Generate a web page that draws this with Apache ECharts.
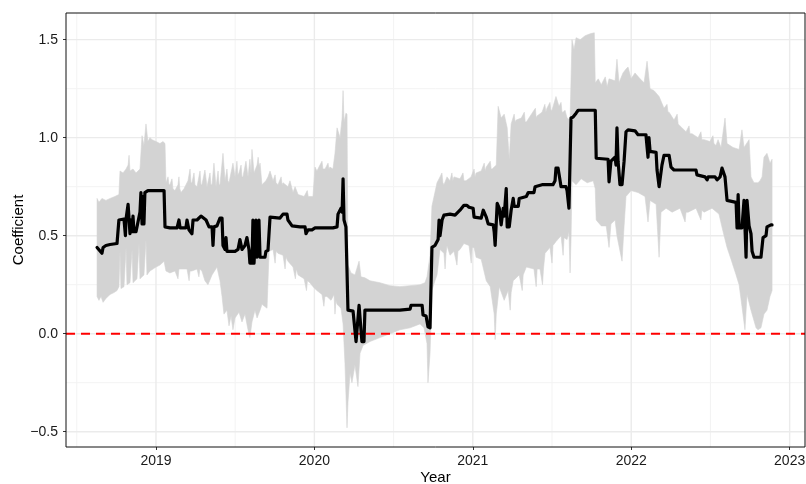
<!DOCTYPE html>
<html>
<head>
<meta charset="utf-8">
<title>Rolling coefficient</title>
<script src="https://cdn.jsdelivr.net/npm/echarts@6/dist/echarts.min.js"></script>
<style>
  html, body { margin: 0; padding: 0; background: #ffffff; }
  #chart { width: 806px; height: 484px; }
</style>
</head>
<body>
<div id="chart"></div>
<script>
// Axis ranges and tick positions (x in decimal years)
const xRange = [2018.432, 2023.097];
const yRange = [-0.578, 1.636];
const yearTicks = [2019, 2020, 2021, 2022, 2023];
const yearMinor = [2018.5, 2019.5, 2020.5, 2021.5, 2022.5];
const coefTicks = [-0.5, 0, 0.5, 1, 1.5];
const coefMinor = [-0.25, 0.25, 0.75, 1.25];
const zeroLine = 0;

// Upper edge of the confidence band: [year, value]
const bandUpper = [
  [2018.628, 0.69], [2018.640, 0.67], [2018.659, 0.69], [2018.684, 0.68], [2018.710, 0.69],
  [2018.741, 0.70], [2018.766, 0.71], [2018.773, 0.83], [2018.792, 0.82], [2018.811, 0.84],
  [2018.824, 0.86], [2018.830, 0.91], [2018.836, 0.83], [2018.855, 0.84], [2018.874, 0.82],
  [2018.899, 0.84], [2018.912, 1.01], [2018.924, 0.96], [2018.937, 1.07], [2018.949, 0.98],
  [2018.962, 1.00], [2018.975, 0.99], [2019.000, 0.98], [2019.025, 0.97], [2019.044, 0.98],
  [2019.057, 0.97], [2019.063, 0.77], [2019.076, 0.80], [2019.082, 0.76], [2019.088, 0.76],
  [2019.101, 0.79], [2019.107, 0.74], [2019.120, 0.73], [2019.139, 0.76], [2019.145, 0.80],
  [2019.150, 0.74], [2019.158, 0.72], [2019.177, 0.74], [2019.202, 0.78], [2019.215, 0.84],
  [2019.221, 0.77], [2019.227, 0.77], [2019.240, 0.82], [2019.246, 0.76], [2019.259, 0.75],
  [2019.278, 0.83], [2019.284, 0.76], [2019.290, 0.76], [2019.309, 0.835], [2019.322, 0.75],
  [2019.341, 0.82], [2019.347, 0.76], [2019.354, 0.76], [2019.366, 0.87], [2019.379, 0.75],
  [2019.392, 0.83], [2019.398, 0.76], [2019.404, 0.76], [2019.423, 0.92], [2019.436, 0.78],
  [2019.448, 0.84], [2019.454, 0.78], [2019.461, 0.77], [2019.486, 0.87], [2019.499, 0.80],
  [2019.511, 0.88], [2019.517, 0.81], [2019.524, 0.82], [2019.537, 0.86], [2019.543, 0.80],
  [2019.549, 0.80], [2019.568, 0.88], [2019.581, 0.80], [2019.593, 0.89], [2019.600, 0.82],
  [2019.606, 0.94], [2019.619, 0.82], [2019.638, 0.86], [2019.645, 0.90], [2019.651, 0.85],
  [2019.657, 0.87], [2019.669, 0.76], [2019.694, 0.78], [2019.707, 0.80], [2019.720, 0.83],
  [2019.739, 0.78], [2019.752, 0.81], [2019.758, 0.77], [2019.770, 0.76], [2019.790, 0.80],
  [2019.796, 0.76], [2019.802, 0.77], [2019.833, 0.75], [2019.846, 0.78], [2019.865, 0.72],
  [2019.878, 0.75], [2019.897, 0.71], [2019.935, 0.70], [2019.955, 0.73], [2019.961, 0.70],
  [2019.991, 0.70], [2020.004, 0.85], [2020.016, 0.83], [2020.035, 0.86], [2020.048, 0.88],
  [2020.054, 0.84], [2020.067, 0.84], [2020.086, 0.87], [2020.092, 0.84], [2020.098, 0.85],
  [2020.117, 0.84], [2020.130, 0.92], [2020.143, 1.05], [2020.162, 1.00], [2020.175, 1.10],
  [2020.181, 1.24], [2020.187, 1.08], [2020.199, 1.125], [2020.206, 1.12], [2020.212, 0.35],
  [2020.231, 0.31], [2020.256, 0.30], [2020.282, 0.37], [2020.294, 0.29], [2020.319, 0.285],
  [2020.351, 0.27], [2020.414, 0.26], [2020.477, 0.245], [2020.540, 0.24], [2020.604, 0.245],
  [2020.667, 0.25], [2020.698, 0.26], [2020.711, 0.29], [2020.730, 0.40], [2020.742, 0.65],
  [2020.774, 0.77], [2020.793, 0.80], [2020.805, 0.82], [2020.811, 0.77], [2020.818, 0.76],
  [2020.837, 0.80], [2020.856, 0.78], [2020.868, 0.82], [2020.874, 0.78], [2020.881, 0.80],
  [2020.919, 0.79], [2020.938, 0.82], [2020.944, 0.78], [2020.957, 0.78], [2020.989, 0.80],
  [2021.008, 0.84], [2021.014, 0.80], [2021.021, 0.82], [2021.053, 0.83], [2021.072, 0.87],
  [2021.078, 0.83], [2021.085, 0.85], [2021.110, 0.88], [2021.116, 0.84], [2021.122, 0.84],
  [2021.148, 0.86], [2021.160, 1.16], [2021.179, 1.10], [2021.198, 1.12], [2021.217, 1.05],
  [2021.230, 0.89], [2021.242, 1.07], [2021.261, 1.12], [2021.267, 1.08], [2021.274, 1.09],
  [2021.306, 1.10], [2021.325, 1.13], [2021.331, 1.08], [2021.338, 1.08], [2021.370, 1.12],
  [2021.395, 1.15], [2021.400, 1.10], [2021.405, 1.11], [2021.437, 1.13], [2021.455, 1.17],
  [2021.461, 1.13], [2021.468, 1.15], [2021.487, 1.18], [2021.493, 1.14], [2021.500, 1.14],
  [2021.525, 1.21], [2021.544, 1.16], [2021.557, 1.18], [2021.563, 1.13], [2021.570, 1.13],
  [2021.582, 1.14], [2021.595, 1.10], [2021.614, 1.09], [2021.626, 1.50], [2021.639, 1.45],
  [2021.652, 1.51], [2021.678, 1.50], [2021.709, 1.52], [2021.741, 1.53], [2021.767, 1.535],
  [2021.773, 1.28], [2021.792, 1.30], [2021.811, 1.27], [2021.836, 1.31], [2021.848, 1.26],
  [2021.860, 1.30], [2021.898, 1.29], [2021.910, 1.40], [2021.923, 1.28], [2021.948, 1.33],
  [2021.967, 1.35], [2021.980, 1.36], [2021.999, 1.30], [2022.024, 1.33], [2022.056, 1.30],
  [2022.081, 1.28], [2022.100, 1.39], [2022.119, 1.25], [2022.144, 1.24], [2022.176, 1.21],
  [2022.207, 1.15], [2022.226, 1.17], [2022.232, 1.13], [2022.239, 1.13], [2022.270, 1.09],
  [2022.290, 1.12], [2022.296, 1.07], [2022.308, 1.06], [2022.346, 1.03], [2022.365, 1.06],
  [2022.371, 1.02], [2022.384, 1.02], [2022.422, 1.00], [2022.440, 1.03], [2022.446, 0.99],
  [2022.460, 0.99], [2022.497, 0.98], [2022.516, 1.01], [2022.522, 0.97], [2022.535, 0.96],
  [2022.548, 0.99], [2022.567, 0.95], [2022.592, 1.10], [2022.605, 0.97], [2022.643, 0.95],
  [2022.681, 0.94], [2022.699, 1.04], [2022.712, 0.95], [2022.744, 0.99], [2022.756, 0.80],
  [2022.775, 0.77], [2022.800, 0.77], [2022.813, 0.78], [2022.826, 0.80], [2022.838, 0.90],
  [2022.857, 0.92], [2022.876, 0.87], [2022.889, 0.89]
];

// Lower edge of the confidence band: [year, value]
const bandLower = [
  [2018.628, 0.19], [2018.640, 0.17], [2018.653, 0.19], [2018.666, 0.16], [2018.684, 0.18],
  [2018.710, 0.20], [2018.735, 0.21], [2018.754, 0.22], [2018.766, 0.24], [2018.773, 0.42],
  [2018.779, 0.23], [2018.798, 0.24], [2018.811, 0.44], [2018.817, 0.25], [2018.836, 0.26],
  [2018.849, 0.43], [2018.855, 0.26], [2018.880, 0.28], [2018.893, 0.46], [2018.899, 0.28],
  [2018.924, 0.30], [2018.937, 0.48], [2018.943, 0.30], [2018.962, 0.32], [2018.981, 0.33],
  [2019.000, 0.34], [2019.025, 0.35], [2019.051, 0.37], [2019.063, 0.32], [2019.088, 0.31],
  [2019.120, 0.32], [2019.139, 0.28], [2019.145, 0.33], [2019.158, 0.33], [2019.196, 0.33],
  [2019.209, 0.27], [2019.215, 0.32], [2019.227, 0.32], [2019.259, 0.33], [2019.271, 0.29],
  [2019.277, 0.33], [2019.290, 0.32], [2019.309, 0.27], [2019.328, 0.25], [2019.354, 0.30],
  [2019.385, 0.34], [2019.404, 0.27], [2019.417, 0.19], [2019.429, 0.10], [2019.448, 0.12],
  [2019.461, 0.04], [2019.474, 0.09], [2019.486, 0.02], [2019.499, 0.08], [2019.524, 0.11],
  [2019.543, 0.06], [2019.562, 0.10], [2019.581, 0.02], [2019.593, -0.02], [2019.606, 0.06],
  [2019.625, 0.12], [2019.638, 0.08], [2019.657, 0.12], [2019.669, 0.15], [2019.701, 0.13],
  [2019.714, 0.42], [2019.739, 0.43], [2019.752, 0.36], [2019.758, 0.42], [2019.770, 0.41],
  [2019.802, 0.40], [2019.815, 0.33], [2019.821, 0.39], [2019.833, 0.37], [2019.865, 0.34],
  [2019.880, 0.28], [2019.886, 0.33], [2019.897, 0.30], [2019.935, 0.28], [2019.950, 0.22],
  [2019.956, 0.27], [2019.972, 0.26], [2019.991, 0.24], [2020.016, 0.22], [2020.048, 0.20],
  [2020.060, 0.14], [2020.066, 0.19], [2020.079, 0.19], [2020.105, 0.17], [2020.124, 0.20],
  [2020.130, 0.10], [2020.136, 0.17], [2020.143, 0.15], [2020.168, 0.13], [2020.181, 0.05],
  [2020.193, -0.15], [2020.206, -0.48], [2020.212, -0.35], [2020.225, -0.20], [2020.237, -0.25],
  [2020.256, -0.16], [2020.275, -0.27], [2020.288, -0.10], [2020.307, -0.06], [2020.351, -0.04],
  [2020.414, -0.02], [2020.477, 0.00], [2020.540, 0.02], [2020.604, 0.03], [2020.667, 0.05],
  [2020.692, 0.03], [2020.711, -0.05], [2020.717, -0.25], [2020.730, -0.10], [2020.742, 0.22],
  [2020.761, 0.27], [2020.774, 0.30], [2020.793, 0.43], [2020.818, 0.41], [2020.825, 0.33],
  [2020.831, 0.41], [2020.837, 0.45], [2020.856, 0.40], [2020.881, 0.42], [2020.900, 0.35],
  [2020.906, 0.42], [2020.919, 0.43], [2020.944, 0.46], [2020.976, 0.45], [2020.990, 0.36],
  [2020.996, 0.44], [2021.008, 0.44], [2021.021, 0.39], [2021.053, 0.38], [2021.085, 0.27],
  [2021.110, 0.24], [2021.135, 0.10], [2021.141, -0.03], [2021.148, 0.10], [2021.167, 0.24],
  [2021.198, 0.17], [2021.223, 0.22], [2021.236, 0.12], [2021.242, 0.21], [2021.255, 0.27],
  [2021.293, 0.30], [2021.312, 0.22], [2021.318, 0.30], [2021.338, 0.34], [2021.386, 0.33],
  [2021.400, 0.24], [2021.406, 0.33], [2021.424, 0.33], [2021.440, 0.25], [2021.446, 0.33],
  [2021.456, 0.41], [2021.487, 0.44], [2021.500, 0.36], [2021.506, 0.45], [2021.525, 0.47],
  [2021.557, 0.50], [2021.570, 0.40], [2021.576, 0.49], [2021.595, 0.48], [2021.607, 0.52],
  [2021.614, 0.31], [2021.620, 0.48], [2021.626, 0.78], [2021.652, 0.76], [2021.684, 0.79],
  [2021.722, 0.77], [2021.760, 0.78], [2021.773, 0.74], [2021.779, 0.58], [2021.811, 0.55],
  [2021.842, 0.55], [2021.860, 0.44], [2021.872, 0.56], [2021.898, 0.58], [2021.910, 0.50],
  [2021.942, 0.37], [2021.955, 0.55], [2021.967, 0.70], [2021.999, 0.73], [2022.043, 0.72],
  [2022.087, 0.70], [2022.106, 0.57], [2022.119, 0.68], [2022.157, 0.66], [2022.176, 0.39],
  [2022.188, 0.62], [2022.220, 0.64], [2022.258, 0.62], [2022.308, 0.64], [2022.340, 0.57],
  [2022.346, 0.62], [2022.359, 0.62], [2022.409, 0.64], [2022.440, 0.58], [2022.446, 0.63],
  [2022.460, 0.62], [2022.510, 0.64], [2022.554, 0.61], [2022.580, 0.52], [2022.605, 0.44],
  [2022.630, 0.38], [2022.662, 0.30], [2022.681, 0.25], [2022.699, 0.14], [2022.718, 0.02],
  [2022.731, 0.20], [2022.756, 0.12], [2022.788, 0.03], [2022.800, 0.02], [2022.819, 0.03],
  [2022.838, 0.10], [2022.857, 0.12], [2022.876, 0.19], [2022.889, 0.22]
];

// Estimated coefficient: [year, value]
const coefLine = [
  [2018.628, 0.44], [2018.640, 0.43], [2018.659, 0.41], [2018.666, 0.44], [2018.684, 0.45],
  [2018.710, 0.455], [2018.754, 0.46], [2018.760, 0.46], [2018.766, 0.58], [2018.798, 0.585],
  [2018.807, 0.50], [2018.811, 0.585], [2018.817, 0.58], [2018.824, 0.66], [2018.830, 0.66],
  [2018.836, 0.51], [2018.842, 0.58], [2018.848, 0.52], [2018.855, 0.60], [2018.861, 0.52],
  [2018.874, 0.52], [2018.886, 0.52], [2018.899, 0.62], [2018.905, 0.72], [2018.912, 0.56],
  [2018.918, 0.70], [2018.924, 0.56], [2018.930, 0.72], [2018.937, 0.72], [2018.949, 0.73],
  [2018.975, 0.73], [2019.020, 0.73], [2019.051, 0.73], [2019.057, 0.545], [2019.088, 0.54],
  [2019.133, 0.54], [2019.145, 0.58], [2019.152, 0.54], [2019.189, 0.54], [2019.196, 0.58],
  [2019.208, 0.53], [2019.227, 0.51], [2019.234, 0.58], [2019.259, 0.58], [2019.284, 0.60],
  [2019.316, 0.58], [2019.335, 0.545], [2019.354, 0.545], [2019.360, 0.45], [2019.366, 0.545],
  [2019.385, 0.55], [2019.404, 0.59], [2019.417, 0.59], [2019.423, 0.45], [2019.436, 0.43],
  [2019.442, 0.49], [2019.448, 0.42], [2019.467, 0.42], [2019.499, 0.42], [2019.518, 0.43],
  [2019.530, 0.48], [2019.543, 0.43], [2019.562, 0.45], [2019.574, 0.49], [2019.587, 0.43],
  [2019.593, 0.36], [2019.606, 0.36], [2019.612, 0.58], [2019.619, 0.36], [2019.625, 0.36],
  [2019.631, 0.58], [2019.638, 0.39], [2019.644, 0.39], [2019.650, 0.58], [2019.657, 0.39],
  [2019.688, 0.39], [2019.694, 0.42], [2019.707, 0.425], [2019.720, 0.595], [2019.783, 0.59],
  [2019.802, 0.61], [2019.827, 0.61], [2019.833, 0.58], [2019.859, 0.55], [2019.909, 0.545],
  [2019.941, 0.545], [2019.947, 0.51], [2019.960, 0.53], [2019.985, 0.53], [2020.004, 0.54],
  [2020.117, 0.54], [2020.143, 0.545], [2020.149, 0.61], [2020.168, 0.64], [2020.175, 0.62],
  [2020.181, 0.79], [2020.187, 0.58], [2020.199, 0.545], [2020.206, 0.545], [2020.212, 0.12],
  [2020.244, 0.115], [2020.256, 0.12], [2020.263, -0.04], [2020.275, -0.05], [2020.282, 0.145],
  [2020.294, 0.15], [2020.300, -0.04], [2020.313, -0.04], [2020.319, 0.12], [2020.414, 0.12],
  [2020.540, 0.12], [2020.604, 0.125], [2020.610, 0.145], [2020.667, 0.145], [2020.680, 0.145],
  [2020.686, 0.095], [2020.705, 0.09], [2020.717, 0.035], [2020.730, 0.03], [2020.742, 0.44],
  [2020.761, 0.45], [2020.781, 0.48], [2020.787, 0.58], [2020.793, 0.50], [2020.806, 0.58],
  [2020.818, 0.605], [2020.856, 0.61], [2020.888, 0.605], [2020.919, 0.63], [2020.944, 0.655],
  [2020.963, 0.655], [2020.976, 0.645], [2021.002, 0.64], [2021.008, 0.595], [2021.053, 0.59],
  [2021.066, 0.63], [2021.078, 0.63], [2021.085, 0.595], [2021.097, 0.56], [2021.129, 0.555],
  [2021.135, 0.52], [2021.141, 0.45], [2021.154, 0.665], [2021.167, 0.64], [2021.179, 0.555],
  [2021.192, 0.64], [2021.198, 0.60], [2021.211, 0.74], [2021.217, 0.545], [2021.230, 0.545],
  [2021.242, 0.63], [2021.255, 0.69], [2021.261, 0.65], [2021.287, 0.65], [2021.293, 0.69],
  [2021.338, 0.70], [2021.350, 0.72], [2021.386, 0.72], [2021.393, 0.75], [2021.437, 0.76],
  [2021.506, 0.76], [2021.519, 0.78], [2021.525, 0.845], [2021.538, 0.845], [2021.551, 0.78],
  [2021.557, 0.75], [2021.588, 0.75], [2021.595, 0.73], [2021.607, 0.64], [2021.614, 0.64],
  [2021.620, 1.10], [2021.633, 1.105], [2021.652, 1.125], [2021.665, 1.14], [2021.773, 1.14],
  [2021.779, 0.895], [2021.854, 0.89], [2021.860, 0.775], [2021.872, 0.88], [2021.898, 0.90],
  [2021.904, 0.86], [2021.910, 1.05], [2021.917, 0.88], [2021.929, 0.76], [2021.942, 0.76],
  [2021.955, 0.88], [2021.967, 1.03], [2021.980, 1.04], [2022.024, 1.035], [2022.043, 1.015],
  [2022.093, 1.015], [2022.106, 0.90], [2022.112, 1.00], [2022.119, 0.93], [2022.157, 0.925],
  [2022.163, 0.835], [2022.176, 0.75], [2022.188, 0.75], [2022.194, 0.86], [2022.207, 0.91],
  [2022.239, 0.91], [2022.251, 0.85], [2022.270, 0.835], [2022.409, 0.835], [2022.415, 0.81],
  [2022.466, 0.80], [2022.479, 0.785], [2022.486, 0.80], [2022.529, 0.80], [2022.542, 0.785],
  [2022.561, 0.80], [2022.573, 0.845], [2022.592, 0.80], [2022.605, 0.68], [2022.617, 0.67],
  [2022.662, 0.67], [2022.668, 0.54], [2022.675, 0.71], [2022.681, 0.54], [2022.699, 0.54],
  [2022.712, 0.68], [2022.725, 0.39], [2022.731, 0.68], [2022.744, 0.55], [2022.756, 0.51],
  [2022.763, 0.42], [2022.775, 0.39], [2022.819, 0.39], [2022.832, 0.49], [2022.851, 0.50],
  [2022.857, 0.545], [2022.882, 0.555], [2022.889, 0.555]
];

const FONT = '"Liberation Sans", Arial, Helvetica, sans-serif';
const chart = echarts.init(document.getElementById('chart'), null, { renderer: 'canvas' });

// Full-height / full-width rules inside the plotting panel
function panelRules(params, api, xs, ys, width, color) {
  const cs = params.coordSys;
  const out = [];
  xs.forEach(v => {
    const x = api.coord([v, yRange[0]])[0];
    out.push({ type: 'line', shape: { x1: x, y1: cs.y, x2: x, y2: cs.y + cs.height },
               style: { stroke: color, lineWidth: width } });
  });
  ys.forEach(v => {
    const y = api.coord([xRange[0], v])[1];
    out.push({ type: 'line', shape: { x1: cs.x, y1: y, x2: cs.x + cs.width, y2: y },
               style: { stroke: color, lineWidth: width } });
  });
  return out;
}

// Panel contents drawn back to front: grid rules, confidence band, zero reference
function renderPanel(params, api) {
  const cs = params.coordSys;
  const top = bandUpper.map(p => api.coord(p));
  const bottom = bandLower.slice().reverse().map(p => api.coord(p));
  const yZero = api.coord([xRange[0], zeroLine])[1];
  return {
    type: 'group',
    children: [].concat(
      panelRules(params, api, yearMinor, coefMinor, 1, '#F3F3F3'),
      panelRules(params, api, yearTicks, coefTicks, 1.4, '#EBEBEB'),
      [{
        type: 'polygon',
        shape: { points: top.concat(bottom) },
        style: { fill: '#D3D3D3', stroke: '#D3D3D3', lineWidth: 0.6 }
      }, {
        type: 'line',
        shape: { x1: cs.x, y1: yZero, x2: cs.x + cs.width, y2: yZero },
        style: { stroke: '#FF0000', lineWidth: 2, lineDash: [9, 6] }
      }]
    )
  };
}

const option = {
  animation: false,
  backgroundColor: '#ffffff',
  grid: {
    left: 66, right: 1, top: 13, bottom: 37,
    outerBoundsMode: 'none',
    containLabel: false,
    show: true, borderColor: '#111111', borderWidth: 1, backgroundColor: 'transparent', z: 10
  },
  xAxis: {
    type: 'value',
    min: xRange[0], max: xRange[1],
    name: 'Year', nameLocation: 'middle', nameGap: 23, nameMoveOverlap: false,
    nameTextStyle: { fontFamily: FONT, fontSize: 15, color: '#000' },
    axisLine: { show: false, onZero: false },
    axisTick: { show: true, length: 3, customValues: yearTicks, lineStyle: { color: '#333', width: 1 } },
    axisLabel: {
      customValues: yearTicks, margin: 7,
      fontFamily: FONT, fontSize: 14, color: '#1a1a1a',
      formatter: v => String(Math.round(v))
    },
    splitLine: { show: false },
    minorSplitLine: { show: false }
  },
  yAxis: {
    type: 'value',
    min: yRange[0], max: yRange[1],
    name: 'Coefficient', nameLocation: 'middle', nameGap: 40, nameMoveOverlap: false,
    nameTextStyle: { fontFamily: FONT, fontSize: 15, color: '#000' },
    axisLine: { show: false, onZero: false },
    axisTick: { show: true, length: 3, customValues: coefTicks, lineStyle: { color: '#333', width: 1 } },
    axisLabel: {
      customValues: coefTicks, margin: 8,
      fontFamily: FONT, fontSize: 14, color: '#1a1a1a',
      formatter: v => v.toFixed(1).replace('-', '\u2212')
    },
    splitLine: { show: false },
    minorSplitLine: { show: false }
  },
  series: [
    {
      name: 'panel',
      type: 'custom',
      z: 1,
      silent: true,
      clip: true,
      data: [[xRange[0], yRange[0]]],
      encode: { x: 0, y: 1 },
      renderItem: renderPanel
    },
    {
      name: 'Coefficient',
      type: 'line',
      data: coefLine,
      z: 3,
      showSymbol: false,
      symbol: 'none',
      silent: true,
      lineStyle: { color: '#000000', width: 3.2, join: 'round', cap: 'round' }
    }
  ]
};

chart.setOption(option);
</script>
</body>
</html>
